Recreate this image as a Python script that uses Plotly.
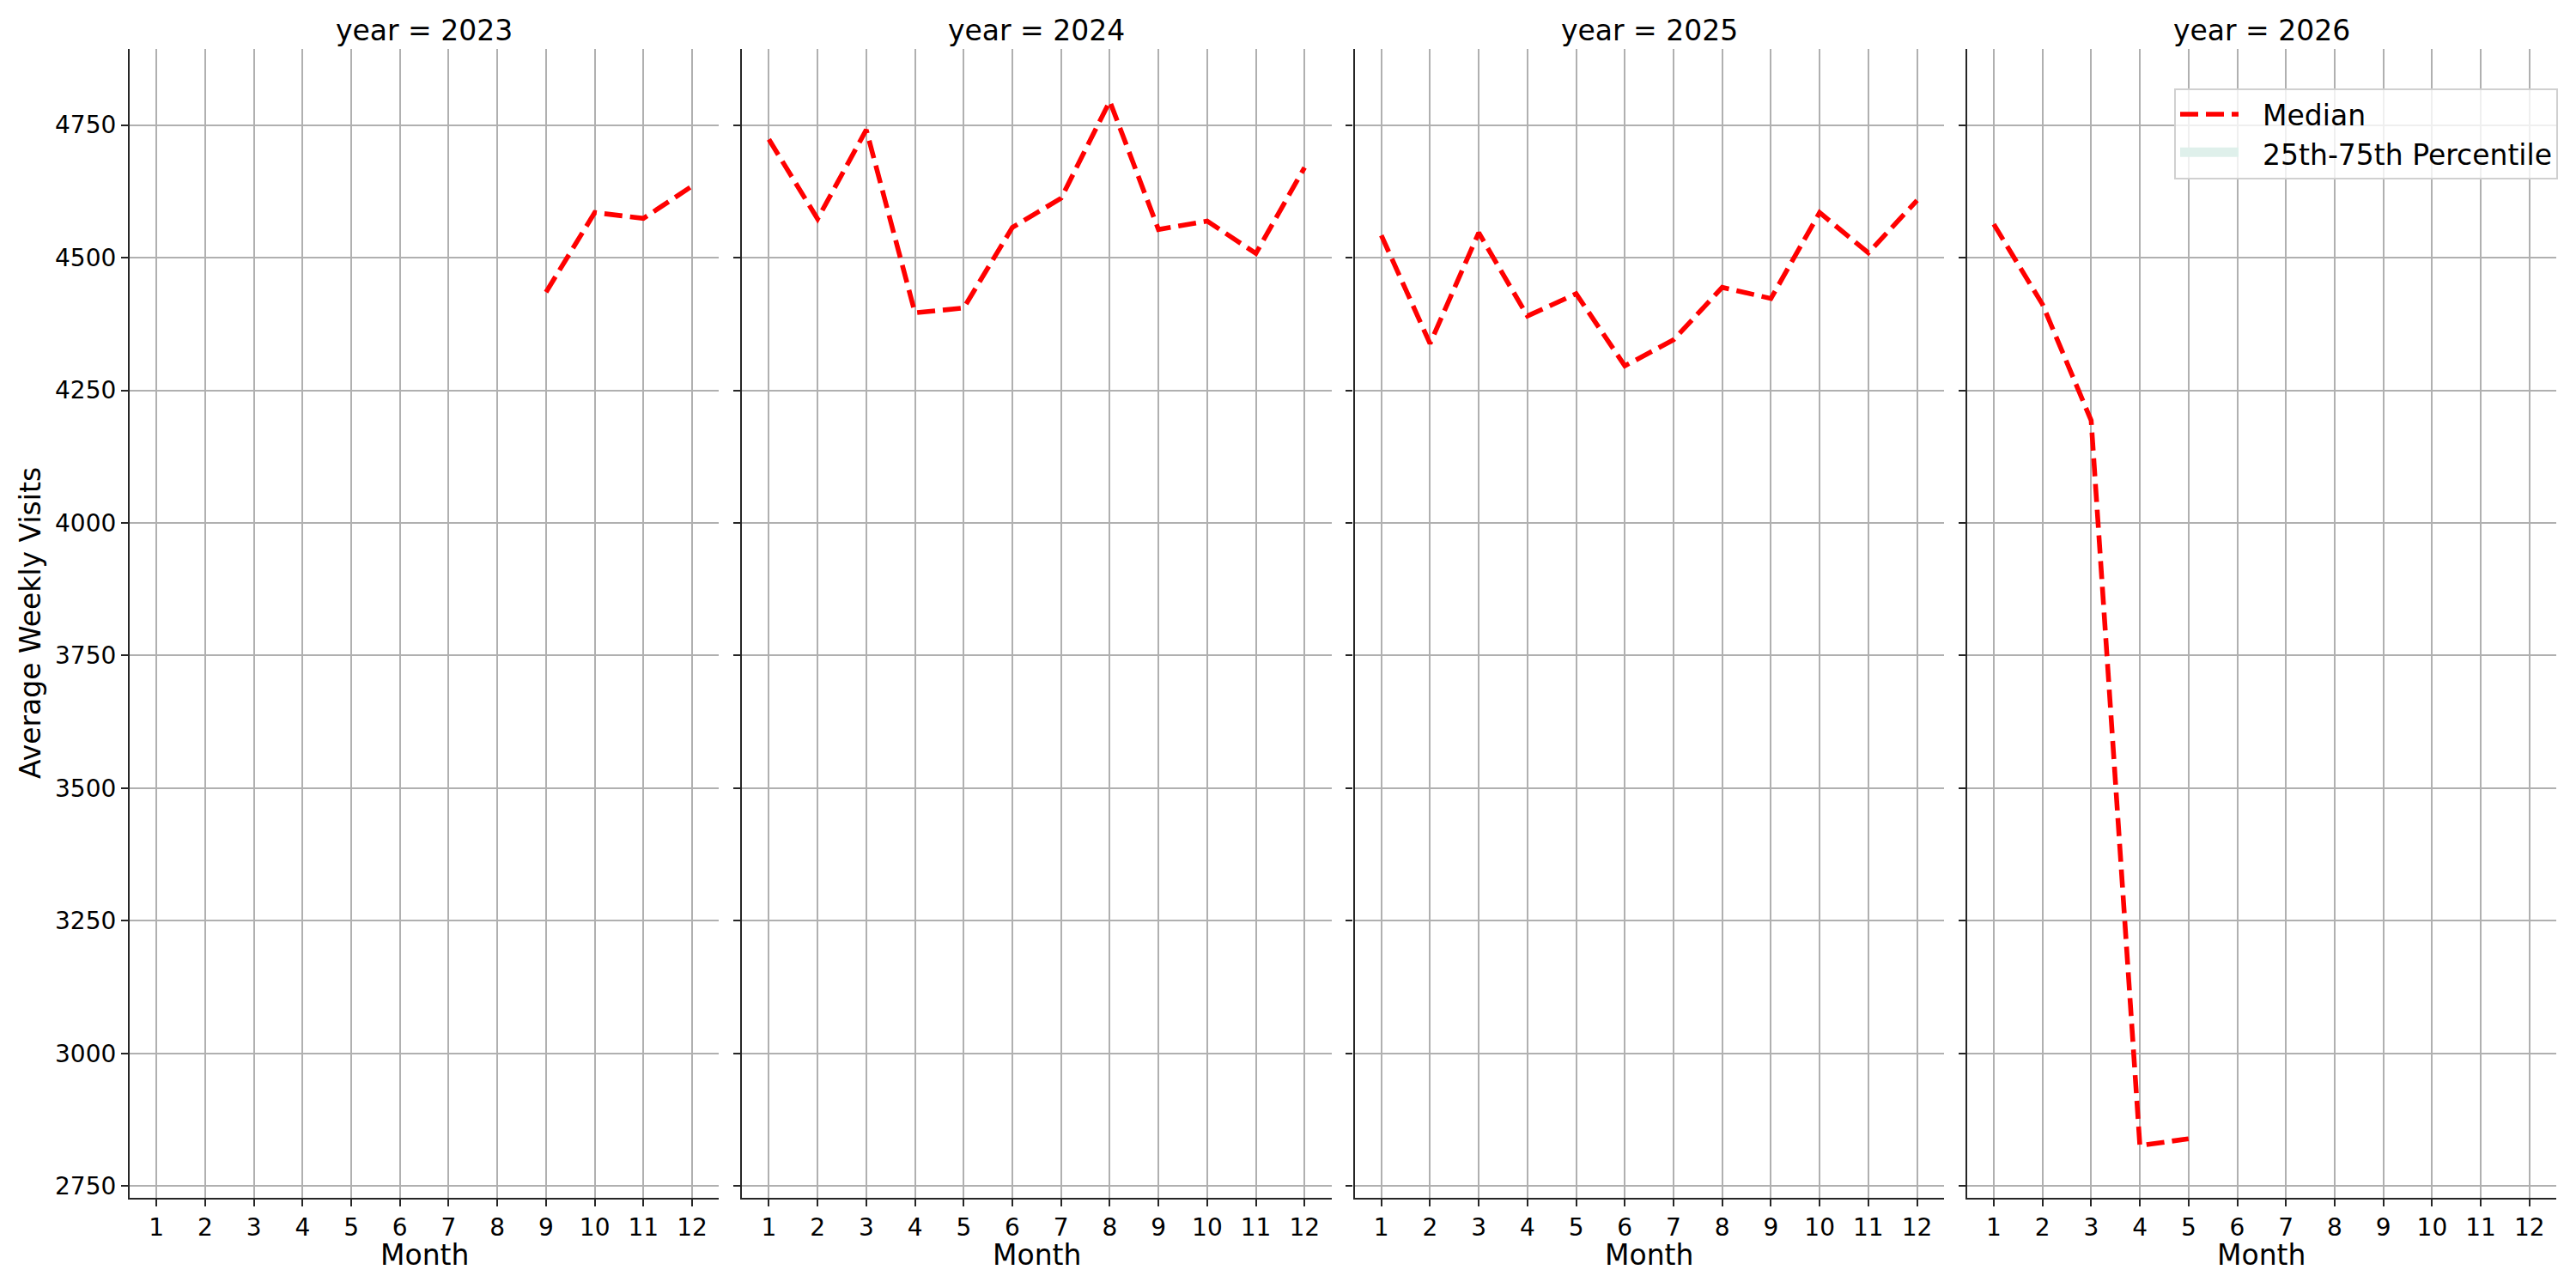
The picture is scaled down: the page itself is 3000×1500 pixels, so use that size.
import plotly.graph_objects as go
from plotly.subplots import make_subplots

years = [2023, 2024, 2025, 2026]
months_2023 = [9, 10, 11, 12]
median_2023 = [4435, 4585, 4574, 4635]
months_2024 = [1, 2, 3, 4, 5, 6, 7, 8, 9, 10, 11, 12]
median_2024 = [4723, 4573, 4741, 4396, 4405, 4557, 4612, 4795, 4553, 4569, 4508, 4670]
months_2025 = [1, 2, 3, 4, 5, 6, 7, 8, 9, 10, 11, 12]
median_2025 = [4542, 4338, 4547, 4390, 4432, 4296, 4345, 4444, 4423, 4585, 4509, 4608]
months_2026 = [1, 2, 3, 4, 5]
median_2026 = [4563, 4412, 4193, 2826, 2839]
month_ticks = [1, 2, 3, 4, 5, 6, 7, 8, 9, 10, 11, 12]
y_ticks = [2750, 3000, 3250, 3500, 3750, 4000, 4250, 4500, 4750]
legend_names = ["Median", "25th-75th Percentile"]

series = [(months_2023, median_2023), (months_2024, median_2024),
          (months_2025, median_2025), (months_2026, median_2026)]

FONT = "DejaVu Sans"
W, H = 3000, 1500
ML, MR, MT, MB = 151, 23, 57, 105
PW = W - ML - MR
PH = H - MT - MB
GAP = "\u2002\u2009"  # visual gap between legend sample and label

fig = make_subplots(rows=1, cols=4, shared_yaxes=True,
                    horizontal_spacing=27 / PW)

for i, (mx, my) in enumerate(series):
    fig.add_trace(go.Scatter(
        x=mx, y=my, mode="lines", name=GAP + legend_names[0],
        line=dict(color="red", width=5.6, dash="21px,9px"),
        showlegend=(i == 0), legendrank=1,
    ), row=1, col=i + 1)

# legend-only entry for the percentile band (no visible band in chart)
fig.add_trace(go.Scatter(
    x=[None], y=[None], mode="lines", fill="toself",
    fillcolor="#dff0eb", line=dict(width=10, color="#dff0eb"),
    name=GAP + legend_names[1], showlegend=True, legendrank=2,
), row=1, col=4)

all_vals = median_2023 + median_2024 + median_2025 + median_2026
lo, hi = min(all_vals), max(all_vals)
pad = 0.05 * (hi - lo)

for i in range(4):
    fig.update_xaxes(
        row=1, col=i + 1,
        range=[0.45, 12.55], tickmode="array", tickvals=month_ticks,
        ticktext=[str(m) for m in month_ticks],
        showgrid=True, gridcolor="#b0b0b0", gridwidth=2.2,
        showline=True, linecolor="#262626", linewidth=2.2,
        ticks="outside", ticklen=8, tickwidth=2.2, tickcolor="#262626",
        tickfont=dict(family=FONT, size=28, color="black"),
        zeroline=False, mirror=False,
    )
    fig.update_yaxes(
        row=1, col=i + 1,
        range=[lo - pad, hi + pad], tickmode="array", tickvals=y_ticks,
        showgrid=True, gridcolor="#b0b0b0", gridwidth=2.2,
        showline=True, linecolor="#262626", linewidth=2.2,
        ticks="outside", ticklen=8, tickwidth=2.2, tickcolor="#262626",
        tickfont=dict(family=FONT, size=28, color="black"),
        zeroline=False, mirror=False,
        showticklabels=(i == 0),
    )

annotations = []
for i, yr in enumerate(years):
    xa = fig.layout["xaxis" if i == 0 else f"xaxis{i+1}"]
    cx = (xa.domain[0] + xa.domain[1]) / 2
    annotations.append(dict(
        text=f"year = {yr}", x=cx, y=(H - MB - 35) / PH,
        xref="paper", yref="paper", xanchor="center", yanchor="middle",
        showarrow=False, font=dict(family=FONT, size=33, color="black"),
    ))
    annotations.append(dict(
        text="Month", x=cx, y=-(1461 - (H - MB)) / PH,
        xref="paper", yref="paper", xanchor="center", yanchor="middle",
        showarrow=False, font=dict(family=FONT, size=33, color="black"),
    ))
annotations.append(dict(
    text="Average Weekly Visits", x=(35 - ML) / PW, y=0.5,
    xref="paper", yref="paper", xanchor="center", yanchor="middle",
    textangle=-90, showarrow=False, font=dict(family=FONT, size=33, color="black"),
))

fig.update_layout(
    width=W, height=H,
    margin=dict(l=ML, r=MR, t=MT, b=MB, pad=0),
    plot_bgcolor="white", paper_bgcolor="white",
    font=dict(family=FONT, size=28, color="black"),
    annotations=annotations,
    legend=dict(
        x=(2979 - ML) / PW, y=(H - MB - 103) / PH, xanchor="right", yanchor="top",
        bgcolor="rgba(255,255,255,0.8)", bordercolor="#d0d0d0", borderwidth=2,
        font=dict(family=FONT, size=33, color="black"),
        itemwidth=68, tracegroupgap=0,
    ),
)

fig.write_html("out.html", config={"displayModeBar": False},
               post_script="document.body.style.margin='0px';document.body.style.padding='0px';")
